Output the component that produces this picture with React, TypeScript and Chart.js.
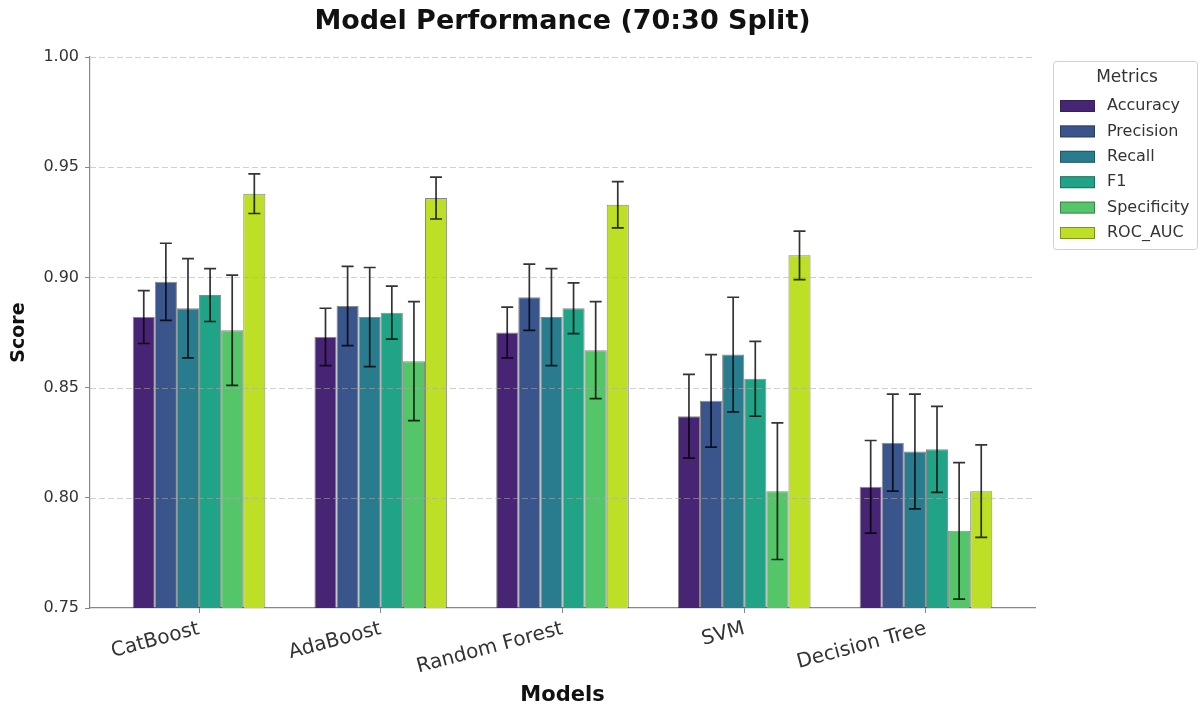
import React, { useEffect, useRef } from "react";
import { Chart, registerables } from "chart.js";

Chart.register(...registerables);

// Models on the x axis
const MODELS = ["CatBoost", "AdaBoost", "Random Forest", "SVM", "Decision Tree"];

// Metric names (legend order)
const METRICS = ["Accuracy", "Precision", "Recall", "F1", "Specificity", "ROC_AUC"];

// Mean scores per metric, one value per model
const ACCURACY = [0.882, 0.873, 0.875, 0.837, 0.805];
const PRECISION = [0.898, 0.887, 0.891, 0.844, 0.825];
const RECALL = [0.886, 0.882, 0.882, 0.865, 0.821];
const F1 = [0.892, 0.884, 0.886, 0.854, 0.822];
const SPECIFICITY = [0.876, 0.862, 0.867, 0.803, 0.785];
const ROC_AUC = [0.938, 0.936, 0.933, 0.91, 0.803];

// Standard deviations (error bar half-lengths)
const ACCURACY_ERR = [0.012, 0.013, 0.0115, 0.019, 0.021];
const PRECISION_ERR = [0.0175, 0.018, 0.015, 0.021, 0.022];
const RECALL_ERR = [0.0225, 0.0225, 0.022, 0.026, 0.026];
const F1_ERR = [0.012, 0.012, 0.0115, 0.017, 0.0195];
const SPECIFICITY_ERR = [0.025, 0.027, 0.022, 0.031, 0.031];
const ROC_AUC_ERR = [0.009, 0.0095, 0.0105, 0.011, 0.021];

// y-axis ticks
const Y_TICKS = [0.75, 0.8, 0.85, 0.9, 0.95, 1.0];

const VALUES = [ACCURACY, PRECISION, RECALL, F1, SPECIFICITY, ROC_AUC];
const ERRORS = [ACCURACY_ERR, PRECISION_ERR, RECALL_ERR, F1_ERR, SPECIFICITY_ERR, ROC_AUC_ERR];

// viridis samples
const COLORS = ["#482475", "#3a548c", "#287c8e", "#20a386", "#54c568", "#bddf26"];

const FONT = "'DejaVu Sans', sans-serif";
const TITLE = "Model Performance (70:30 Split)";

const overlayPlugin = {
  id: "overlay",
  afterDatasetsDraw(chart: any) {
    const { ctx, chartArea, scales } = chart;
    const y = scales.y;
    // dashed horizontal grid, drawn over the bars
    ctx.save();
    ctx.strokeStyle = "rgba(170,170,170,0.55)";
    ctx.lineWidth = 1;
    ctx.setLineDash([6, 3]);
    Y_TICKS.slice(1).forEach((t) => {
      const py = Math.round(y.getPixelForValue(t)) + 0.5;
      ctx.beginPath();
      ctx.moveTo(chartArea.left, py);
      ctx.lineTo(chartArea.right, py);
      ctx.stroke();
    });
    ctx.restore();

    // error bars
    ctx.save();
    ctx.strokeStyle = "rgba(0,0,0,0.8)";
    ctx.lineWidth = 1.7;
    const cap = 6;
    chart.data.datasets.forEach((ds: any, i: number) => {
      const meta = chart.getDatasetMeta(i);
      meta.data.forEach((bar: any, j: number) => {
        const v = VALUES[i][j];
        const e = ERRORS[i][j];
        const x = bar.x;
        const yt = y.getPixelForValue(v + e);
        const yb = y.getPixelForValue(v - e);
        ctx.beginPath();
        ctx.moveTo(x, yt);
        ctx.lineTo(x, yb);
        ctx.moveTo(x - cap, yt);
        ctx.lineTo(x + cap, yt);
        ctx.moveTo(x - cap, yb);
        ctx.lineTo(x + cap, yb);
        ctx.stroke();
      });
    });
    ctx.restore();
  },
  afterDraw(chart: any) {
    const { ctx, chartArea } = chart;
    // title
    ctx.save();
    ctx.fillStyle = "#111";
    ctx.font = `bold 27px ${FONT}`;
    ctx.textAlign = "center";
    ctx.textBaseline = "middle";
    ctx.fillText(TITLE, (chartArea.left + chartArea.right) / 2, 22);
    ctx.restore();

    // legend box
    const bx = 1053, by = 61, bw = 144, bh = 188;
    ctx.save();
    ctx.fillStyle = "rgba(255,255,255,0.9)";
    ctx.strokeStyle = "#d0d0d0";
    ctx.lineWidth = 1;
    ctx.beginPath();
    ctx.roundRect(bx + 0.5, by + 0.5, bw, bh, 3);
    ctx.fill();
    ctx.stroke();
    ctx.fillStyle = "#333";
    ctx.font = `17px ${FONT}`;
    ctx.textAlign = "center";
    ctx.textBaseline = "middle";
    ctx.fillText("Metrics", 1127, 78);
    ctx.textAlign = "left";
    ctx.font = `16px ${FONT}`;
    METRICS.forEach((m, i) => {
      const cy = 106 + i * 25.4;
      ctx.fillStyle = COLORS[i];
      ctx.fillRect(1060, cy - 6, 35, 12);
      ctx.strokeStyle = "rgba(30,30,30,0.4)";
      ctx.strokeRect(1060.5, cy - 5.5, 34, 11);
      ctx.fillStyle = "#333";
      ctx.fillText(m, 1107, cy);
    });
    ctx.restore();
  },
};

export default function App() {
  const ref = useRef<HTMLCanvasElement | null>(null);

  useEffect(() => {
    if (!ref.current) return;
    const chart = new Chart(ref.current, {
      type: "bar",
      data: {
        datasets: METRICS.map((m, i) => ({
          label: m,
          data: VALUES[i].map((v, j) => ({ x: j, y: v })),
          backgroundColor: COLORS[i],
          borderColor: "rgba(20,20,20,0.5)",
          borderWidth: 1,
          barPercentage: 1,
          categoryPercentage: 0.73,
        })),
      },
      options: {
        animation: false,
        responsive: false,
        layout: { padding: { top: 57, right: 168, left: 0, bottom: 0 } },
        plugins: {
          legend: { display: false },
          title: { display: false },
          tooltip: { enabled: false },
        },
        scales: {
          x: {
            type: "linear",
            min: -0.6,
            max: 4.6,
            offset: false,
            afterBuildTicks: (s: any) => {
              s.ticks = MODELS.map((_, i) => ({ value: i }));
            },
            afterFit: (s: any) => {
              s.height = 100;
            },
            ticks: {
              minRotation: 15,
              maxRotation: 15,
              autoSkip: false,
              color: "#333",
              font: { family: FONT, size: 20 },
              padding: 4,
              callback: (v: any) => MODELS[v] ?? "",
            },
            grid: {
              offset: false,
              drawOnChartArea: false,
              drawTicks: true,
              tickLength: 5,
              color: "#888",
            },
            border: { display: true, color: "#888", width: 1.2 },
            title: {
              display: true,
              text: "Models",
              color: "#111",
              font: { family: FONT, size: 21, weight: "bold" },
              padding: { top: 0, bottom: 0 },
            },
          },
          y: {
            min: 0.75,
            max: 1.0,
            afterBuildTicks: (s: any) => {
              s.ticks = Y_TICKS.map((v) => ({ value: v }));
            },
            afterFit: (s: any) => {
              s.width = 90;
            },
            ticks: {
              color: "#333",
              font: { family: FONT, size: 16 },
              padding: 6,
              callback: (v: any) => Number(v).toFixed(2),
            },
            grid: {
              drawOnChartArea: false,
              drawTicks: true,
              tickLength: 5,
              color: "#888",
            },
            border: { display: true, color: "#888", width: 1.2 },
            title: {
              display: true,
              text: "Score",
              color: "#111",
              font: { family: FONT, size: 19, weight: "bold" },
              padding: { top: 8, bottom: 0 },
            },
          },
        },
      },
      plugins: [overlayPlugin],
    });
    return () => chart.destroy();
  }, []);

  return (
    <div style={{ position: "fixed", left: 0, top: 0, width: 1203, height: 708, background: "#fff" }}>
      <canvas ref={ref} width={1203} height={708} style={{ display: "block" }} />
    </div>
  );
}
